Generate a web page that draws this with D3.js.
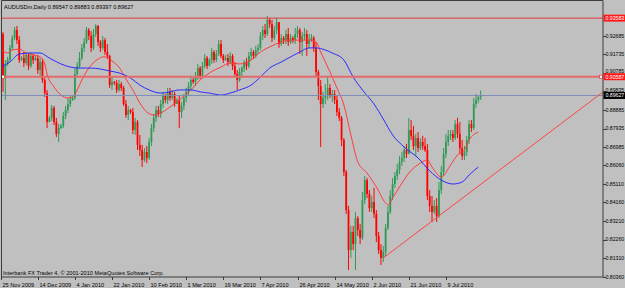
<!DOCTYPE html>
<html>
<head>
<meta charset="utf-8">
<script src="https://cdn.jsdelivr.net/npm/d3@7"></script>
<style>
  body { margin:0; background:#c0c0c0; }
  svg { display:block; font-family:"Liberation Sans", Arial, sans-serif; }
</style>
</head>
<body>
<div id="chart"></div>
<script>
let width = 625;
let height = 288;

// chart header / footer
let symbol = "AUDUSDm,Daily";
let copyright = "Interbank FX Trader 4, \u00a9 2001-2010 MetaQuotes Software Corp.";

// daily bars, 25 Nov 2009 onwards (sunday bars included, no saturdays)
let firstOpen = 0.9113;
let holidays = ["2009-12-25", "2010-01-01"];
let closes = [
  0.9277,0.9052,0.9124,0.9144,0.9206,0.9257,0.9298,0.9246,0.9144,0.9154,
  0.9129,0.9170,0.9113,0.9165,0.9144,0.9154,0.9093,0.9134,0.9042,0.8975,
  0.8827,0.8848,0.8899,0.8827,0.8766,0.8796,0.8807,0.8858,0.8888,0.8919,
  0.8940,0.8950,0.9073,0.9113,0.9154,0.9206,0.9236,0.9298,0.9267,0.9206,
  0.9277,0.9318,0.9236,0.9206,0.9246,0.9185,0.9165,0.9016,0.9032,0.9027,
  0.8991,0.9021,0.9001,0.8919,0.8863,0.8888,0.8878,0.8786,0.8827,0.8710,
  0.8684,0.8633,0.8674,0.8643,0.8725,0.8796,0.8848,0.8888,0.8868,0.8919,
  0.8960,0.8940,0.8981,0.8950,0.8970,0.8919,0.8940,0.8878,0.8909,0.8950,
  0.8981,0.9011,0.9042,0.9032,0.9062,0.9103,0.9062,0.9113,0.9154,0.9113,
  0.9144,0.9185,0.9144,0.9175,0.9226,0.9165,0.9144,0.9154,0.9134,0.9165,
  0.9113,0.9073,0.9042,0.9083,0.9103,0.9134,0.9113,0.9165,0.9185,0.9165,
  0.9195,0.9206,0.9267,0.9298,0.9277,0.9349,0.9328,0.9257,0.9298,0.9338,
  0.9226,0.9257,0.9246,0.9277,0.9236,0.9257,0.9246,0.9277,0.9298,0.9236,
  0.9267,0.9277,0.9226,0.9246,0.9257,0.9206,0.9083,0.9011,0.8919,0.8950,
  0.8960,0.9001,0.8960,0.8970,0.8940,0.8878,0.8848,0.8735,0.8571,0.8377,
  0.8172,0.8265,0.8203,0.8336,0.8275,0.8234,0.8428,0.8530,0.8459,0.8387,
  0.8418,0.8357,0.8244,0.8172,0.8132,0.8162,0.8285,0.8367,0.8449,0.8510,
  0.8551,0.8582,0.8623,0.8643,0.8684,0.8663,0.8786,0.8756,0.8704,0.8745,
  0.8694,0.8725,0.8704,0.8684,0.8449,0.8398,0.8367,0.8398,0.8346,0.8479,
  0.8571,0.8663,0.8725,0.8756,0.8766,0.8745,0.8817,0.8766,0.8694,0.8653,
  0.8674,0.8735,0.8817,0.8796,0.8919,0.8940,0.89547,0.89627
];
let highs = [
  0.9292,0.9287,0.9144,0.9160,0.9221,0.9272,0.9313,0.9318,0.9267,0.9165,
  0.9185,0.9185,0.9180,0.9185,0.9175,0.9165,0.9170,0.9154,0.9149,0.9052,
  0.8991,0.8858,0.8914,0.8909,0.8848,0.8817,0.8817,0.8878,0.8909,0.8950,
  0.8960,0.8960,0.9103,0.9134,0.9185,0.9226,0.9257,0.9313,0.9308,0.9292,
  0.9303,0.9328,0.9323,0.9246,0.9267,0.9257,0.9226,0.9170,0.9062,0.9037,
  0.9042,0.9042,0.9032,0.9011,0.8940,0.8909,0.8894,0.8899,0.8848,0.8837,
  0.8761,0.8710,0.8694,0.8704,0.8745,0.8817,0.8868,0.8909,0.8909,0.8940,
  0.8981,0.8970,0.9001,0.9001,0.8991,0.8981,0.8950,0.8960,0.8929,0.8970,
  0.9001,0.9032,0.9062,0.9052,0.9083,0.9124,0.9113,0.9134,0.9175,0.9165,
  0.9154,0.9206,0.9195,0.9195,0.9246,0.9246,0.9175,0.9170,0.9175,0.9185,
  0.9175,0.9134,0.9093,0.9103,0.9113,0.9144,0.9154,0.9185,0.9206,0.9195,
  0.9216,0.9226,0.9287,0.9318,0.9328,0.9369,0.9359,0.9349,0.9318,0.9359,
  0.9338,0.9277,0.9267,0.9298,0.9308,0.9277,0.9267,0.9308,0.9318,0.9308,
  0.9287,0.9308,0.9298,0.9277,0.9277,0.9267,0.9236,0.9093,0.9042,0.8981,
  0.9021,0.9062,0.9021,0.8991,0.8991,0.8960,0.8899,0.8858,0.8745,0.8582,
  0.8398,0.8295,0.8295,0.8367,0.8346,0.8306,0.8469,0.8551,0.8541,0.8479,
  0.8449,0.8490,0.8377,0.8265,0.8203,0.8193,0.8306,0.8398,0.8479,0.8541,
  0.8571,0.8612,0.8653,0.8674,0.8704,0.8715,0.8848,0.8837,0.8807,0.8766,
  0.8776,0.8745,0.8756,0.8745,0.8715,0.8479,0.8449,0.8428,0.8438,0.8520,
  0.8602,0.8694,0.8766,0.8786,0.8786,0.8786,0.8837,0.8848,0.8827,0.8735,
  0.8704,0.8756,0.8837,0.8837,0.8950,0.8970,0.8965,0.89883
];
let lows = [
  0.9103,0.8981,0.8940,0.9113,0.9134,0.9195,0.9246,0.9226,0.9129,0.9139,
  0.9108,0.9119,0.9093,0.9103,0.9124,0.9139,0.9073,0.9062,0.9027,0.8955,
  0.8796,0.8832,0.8832,0.8812,0.8750,0.8725,0.8791,0.8796,0.8842,0.8873,
  0.8904,0.8935,0.8940,0.9057,0.9103,0.9144,0.9185,0.9226,0.9246,0.9185,
  0.9195,0.9262,0.9216,0.9185,0.9195,0.9170,0.9149,0.9001,0.8991,0.9016,
  0.8975,0.8981,0.8986,0.8909,0.8848,0.8837,0.8868,0.8766,0.8761,0.8684,
  0.8653,0.8597,0.8623,0.8617,0.8633,0.8704,0.8776,0.8827,0.8853,0.8848,
  0.8899,0.8924,0.8919,0.8935,0.8940,0.8904,0.8924,0.8796,0.8848,0.8888,
  0.8929,0.8965,0.8991,0.9021,0.9011,0.9042,0.9047,0.9052,0.9103,0.9098,
  0.9129,0.9124,0.9129,0.9134,0.9165,0.9154,0.9129,0.9139,0.9113,0.9124,
  0.9093,0.9057,0.8991,0.9032,0.9052,0.9083,0.9093,0.9103,0.9144,0.9149,
  0.9154,0.9175,0.9195,0.9246,0.9257,0.9267,0.9308,0.9236,0.9246,0.9277,
  0.9206,0.9216,0.9226,0.9226,0.9216,0.9226,0.9231,0.9226,0.9257,0.9175,
  0.9165,0.9246,0.9165,0.9206,0.9236,0.9185,0.9062,0.8940,0.8699,0.8899,
  0.8919,0.8940,0.8950,0.8929,0.8919,0.8858,0.8832,0.8704,0.8551,0.8357,
  0.8070,0.8132,0.8172,0.8070,0.8244,0.8203,0.8224,0.8408,0.8438,0.8367,
  0.8367,0.8336,0.8213,0.8152,0.8096,0.8111,0.8142,0.8275,0.8357,0.8428,
  0.8490,0.8530,0.8561,0.8602,0.8623,0.8643,0.8674,0.8735,0.8684,0.8653,
  0.8674,0.8684,0.8684,0.8674,0.8428,0.8367,0.8316,0.8357,0.8316,0.8336,
  0.8459,0.8551,0.8643,0.8704,0.8735,0.8725,0.8735,0.8745,0.8663,0.8633,
  0.8633,0.8653,0.8715,0.8776,0.8786,0.8899,0.8924,0.89397
];

// moving averages: [bar, price]
let redMA = [
  [0,0.9200],[3,0.9180],[5,0.9195],[8,0.9200],[11,0.9180],[14,0.9170],[17,0.9160],
  [19,0.9124],[20,0.9073],[23,0.9006],[26,0.8965],[29,0.8950],[31,0.8955],[33,0.8991],
  [35,0.9042],[38,0.9103],[42,0.9149],[44,0.9160],[46,0.9160],[48,0.9139],[51,0.9108],
  [54,0.9047],[57,0.8991],[60,0.8924],[63,0.8878],[66,0.8863],[69,0.8873],[73,0.8904],
  [77,0.8940],[82,0.8991],[86,0.9042],[90,0.9078],[95,0.9108],[99,0.9129],[103,0.9124],
  [108,0.9144],[112,0.9185],[116,0.9211],[121,0.9236],[125,0.9246],[129,0.9246],
  [133,0.9246],[136,0.9236],[138,0.9185],[142,0.9083],[145,0.9001],[148,0.8914],
  [151,0.8761],[154,0.8623],[158,0.8566],[162,0.8495],[166,0.8413],[167,0.8403],
  [169,0.8438],[172,0.8495],[176,0.8566],[181,0.8617],[184,0.8633],[186,0.8597],
  [190,0.8546],[194,0.8607],[197,0.8658],[200,0.8684],[202,0.8735],[206,0.8776]
];
let blueMA = [
  [0,0.9108],[4,0.9134],[8,0.9175],[13,0.9180],[17,0.9180],[21,0.9154],[26,0.9124],
  [30,0.9108],[34,0.9103],[39,0.9103],[43,0.9098],[47,0.9088],[51,0.9078],[56,0.9052],
  [60,0.9016],[64,0.8991],[69,0.8975],[73,0.8981],[77,0.8991],[82,0.8991],[86,0.8981],
  [90,0.8975],[95,0.8965],[99,0.8975],[103,0.8991],[108,0.9016],[112,0.9057],[116,0.9103],
  [121,0.9134],[125,0.9160],[129,0.9185],[133,0.9206],[136,0.9206],[140,0.9195],
  [143,0.9180],[148,0.9144],[152,0.9057],[156,0.8991],[161,0.8919],[165,0.8842],
  [169,0.8761],[174,0.8699],[180,0.8643],[185,0.8577],[190,0.8530],[195,0.8510],
  [199,0.8520],[202,0.8556],[206,0.8597]
];

// drawn objects
let trendLine = [[165,0.8132],[190,0.8356]];
let levels = [0.93583, 0.90587];

// axis labels
let dateLabels = ["25 Nov 2009","14 Dec 2009","4 Jan 2010","22 Jan 2010","10 Feb 2010",
  "1 Mar 2010","19 Mar 2010","7 Apr 2010","26 Apr 2010","14 May 2010","2 Jun 2010",
  "21 Jun 2010","9 Jul 2010"];
let priceLabels = [0.92685,0.91735,0.90785,0.89835,0.88885,0.87935,0.86985,
  0.86060,0.85110,0.84160,0.83210,0.82260,0.81310,0.80360];

// build the trading dates for every bar
let dates = [];
let day = new Date(Date.UTC(2009,10,25));
while(dates.length < closes.length){
    let key = day.toISOString().slice(0,10);
    if(day.getUTCDay() !== 6 && holidays.indexOf(key) < 0) dates.push(key);
    day.setUTCDate(day.getUTCDate()+1);
}

let bars = closes.map(function(c,i){
    let o = i ? closes[i-1] : firstOpen;
    return {i:i, open:o, close:c,
            high:Math.max(highs[i],o,c), low:Math.min(lows[i],o,c)};
});

let plot = {left:1.5, top:0.5, right:603, bottom:277};

let x = d3.scaleLinear().domain([0, closes.length-1]).range([0.7, 480.7]);
let y = d3.scaleLinear().domain([0.80344, 0.9451]).range([277, 0]);

let svg = d3.select("#chart").append("svg")
            .attr("width",width)
            .attr("height",height);

svg.append("rect").attr("width",width).attr("height",height).attr("fill","#c0c0c0");

svg.append("defs").append("clipPath").attr("id","clip")
   .append("rect")
   .attr("x",plot.left).attr("y",plot.top)
   .attr("width",plot.right-plot.left).attr("height",plot.bottom-plot.top);

let g = svg.append("g").attr("clip-path","url(#clip)");

//candles
let bull = "#2f9a55", bear = "#ff0000";
let candle = g.append("g").selectAll("g").data(bars).join("g");
candle.append("line")
      .attr("x1",d => x(d.i)).attr("x2",d => x(d.i))
      .attr("y1",d => y(d.high)).attr("y2",d => y(d.low))
      .attr("stroke",d => d.close >= d.open ? bull : bear)
      .attr("stroke-width",1);
candle.append("rect")
      .attr("x",d => x(d.i)-0.9)
      .attr("width",1.8)
      .attr("y",d => y(Math.max(d.open,d.close)))
      .attr("height",d => Math.max(1, Math.abs(y(d.open)-y(d.close))))
      .attr("fill",d => d.close >= d.open ? bull : bear);

//moving averages
let maLine = d3.line().x(d => x(d[0])).y(d => y(d[1])).curve(d3.curveMonotoneX);
g.append("path").attr("d",maLine(redMA)).attr("fill","none")
 .attr("stroke","#ff3a3a").attr("stroke-width",1);
g.append("path").attr("d",maLine(blueMA)).attr("fill","none")
 .attr("stroke","#2b2bff").attr("stroke-width",1);

//horizontal levels and bid line
g.append("line")
 .attr("x1",plot.left).attr("x2",plot.right)
 .attr("y1",y(levels[0])).attr("y2",y(levels[0]))
 .attr("stroke","#e03a3a").attr("stroke-width",1);
g.append("line")
 .attr("x1",plot.left).attr("x2",plot.right)
 .attr("y1",y(levels[1])).attr("y2",y(levels[1]))
 .attr("stroke","#e46a6a").attr("stroke-width",2);
g.append("line")
 .attr("x1",plot.left).attr("x2",plot.right)
 .attr("y1",y(closes[closes.length-1])).attr("y2",y(closes[closes.length-1]))
 .attr("stroke","#7d8cb4").attr("stroke-width",1);

//selection handles on the level
for(let hx of [plot.left+1.5, plot.right-2]){
    g.append("rect")
     .attr("x",hx-1.5).attr("y",y(levels[1])-1.5)
     .attr("width",3).attr("height",3)
     .attr("fill","#ffffff").attr("stroke","#e03a3a").attr("stroke-width",0.7);
}

//trend line, extended as a ray to the right edge
let p1 = [x(trendLine[0][0]), y(trendLine[0][1])];
let p2 = [x(trendLine[1][0]), y(trendLine[1][1])];
let slope = (p2[1]-p1[1])/(p2[0]-p1[0]);
g.append("line")
 .attr("x1",p1[0]).attr("y1",p1[1])
 .attr("x2",plot.right).attr("y2",p1[1]+slope*(plot.right-p1[0]))
 .attr("stroke","#ff4444").attr("stroke-width",1);

//frame
svg.append("path")
   .attr("d","M"+plot.left+","+plot.bottom+"V"+plot.top+"H"+plot.right+"V"+plot.bottom+"H"+plot.left)
   .attr("fill","none").attr("stroke","#3c3c3c").attr("stroke-width",1);

let fs = "5.6px";
let axisFs = "5.2px";

//title
let last = bars[bars.length-1];
let fmt = d3.format(".5f");
svg.append("text")
   .attr("x",4).attr("y",8.5)
   .attr("font-size",fs).attr("fill","#000")
   .text(symbol+"  "+[last.open,last.high,last.low,last.close].map(fmt).join(" "));

svg.append("text")
   .attr("x",3).attr("y",275.3)
   .attr("font-size",fs).attr("fill","#000")
   .text(copyright);

//price axis (labels hidden by a price tag are skipped, as the terminal does)
let tags = [[levels[0],"#ff1a1a"],[levels[1],"#ff1a1a"],[last.close,"#000000"]];
let yAxis = svg.append("g");
for(let p of priceLabels){
    yAxis.append("line")
         .attr("x1",plot.right).attr("x2",plot.right+3)
         .attr("y1",Math.round(y(p))+0.5).attr("y2",Math.round(y(p))+0.5)
         .attr("stroke","#3c3c3c");
    let hidden = tags.some(t => Math.abs(y(t[0])-y(p)) < 7);
    yAxis.append("text")
         .attr("x",plot.right+2.5).attr("y",hidden ? y(p)-1.5 : y(p)).attr("dy","0.35em")
         .attr("font-size",axisFs).attr("fill","#000")
         .text(fmt(p));
}

//price tags
for(let t of tags){
    yAxis.append("rect")
         .attr("x",plot.right+0.5).attr("y",y(t[0])-3.5)
         .attr("width",22).attr("height",7)
         .attr("fill",t[1]);
    yAxis.append("text")
         .attr("x",plot.right+2.5).attr("y",y(t[0])).attr("dy","0.35em")
         .attr("font-size",axisFs).attr("fill","#fff")
         .text(fmt(t[0]));
}

//time axis
let parseLabel = d3.utcParse("%e %b %Y");
let fmtKey = d3.utcFormat("%Y-%m-%d");
let xAxis = svg.append("g");
for(let lab of dateLabels){
    let idx = dates.indexOf(fmtKey(parseLabel(lab)));
    if(idx < 0) continue;
    let px = Math.round(x(idx))+0.5;
    xAxis.append("line")
         .attr("x1",px).attr("x2",px)
         .attr("y1",plot.bottom).attr("y2",plot.bottom+3)
         .attr("stroke","#3c3c3c");
    xAxis.append("text")
         .attr("x",px+1).attr("y",286.5)
         .attr("font-size",fs).attr("fill","#000")
         .text(lab);
}
</script>
</body>
</html>
